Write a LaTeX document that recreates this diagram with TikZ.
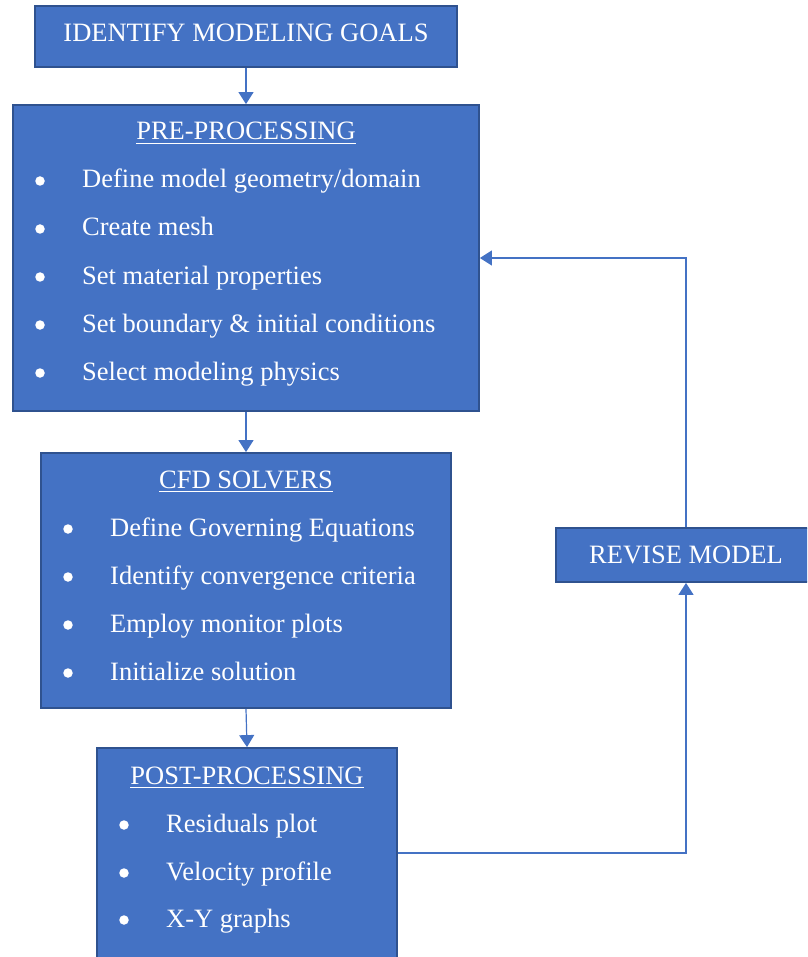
\documentclass[tikz,border=0pt]{standalone}
\usepackage{fontspec}
\setmainfont{Liberation Serif}
\usetikzlibrary{arrows.meta}
\definecolor{boxfill}{HTML}{4472C4}
\definecolor{boxline}{HTML}{2F528F}
\definecolor{conncol}{HTML}{4472C4}
\tikzset{
  stagebox/.style={draw=boxline, line width=1.8pt, fill=boxfill, inner sep=0pt},
  txt/.style={text=white, inner sep=0pt, font=\fontsize{26.5}{30}\selectfont},
  bul/.style={circle, fill=white, inner sep=0pt, minimum size=9.5pt},
  conn/.style={draw=conncol, line width=1.2pt, -{Triangle[length=12pt,width=15pt]}},
  ul/.style={draw=white, line width=1.3pt}
}
\begin{document}
\begin{tikzpicture}[x=1pt,y=-1pt]
\useasboundingbox (0,0) rectangle (807,957);
\clip (0,0) rectangle (807,957);
% boxes
\node[stagebox, minimum width=422pt, minimum height=61pt] (goals) at (246,36.5) {};
\node[stagebox, minimum width=466pt, minimum height=306pt] (pre) at (246,258) {};
\node[stagebox, minimum width=410pt, minimum height=255pt] (cfd) at (246,580.5) {};
\node[stagebox, minimum width=300pt, minimum height=230pt] (post) at (247,863) {};
\node[stagebox, minimum width=260pt, minimum height=54pt] (revise) at (686,555) {};
% texts
\node[txt, anchor=base] (tgoals) at (246,42) {IDENTIFY MODELING GOALS};
\node[txt, anchor=base] (trevise) at (686,563) {REVISE MODEL};
% pre
\node[txt, anchor=base] (tpre) at (246,140) {PRE-PROCESSING};
\draw[ul] ([yshift=-3.8pt]tpre.base west) -- ([yshift=-3.8pt]tpre.base east);
\foreach \n/\y/\t in {p1/188/Define model geometry\slash domain, p2/236/Create mesh, p3/284/Set material properties, p4/332/Set boundary \& initial conditions, p5/380/Select modeling physics}{
  \node[bul] (b\n) at (40,\y-7) {};
  \node[txt, anchor=base west] (\n) at (82,\y) {\t};
}
% cfd
\node[txt, anchor=base] (tcfd) at (246,488) {CFD SOLVERS};
\draw[ul] ([yshift=-3.8pt]tcfd.base west) -- ([yshift=-3.8pt]tcfd.base east);
\foreach \n/\y/\t in {c1/536/Define Governing Equations, c2/584/Identify convergence criteria, c3/632/Employ monitor plots, c4/680/Initialize solution}{
  \node[bul] (b\n) at (68,\y-7) {};
  \node[txt, anchor=base west] (\n) at (110,\y) {\t};
}
% post
\node[txt, anchor=base] (tpost) at (247,784) {POST-PROCESSING};
\draw[ul] ([yshift=-3.8pt]tpost.base west) -- ([yshift=-3.8pt]tpost.base east);
\foreach \n/\y/\t in {q1/832/Residuals plot, q2/880/Velocity profile, q3/927/X-Y graphs}{
  \node[bul] (b\n) at (124,\y-7) {};
  \node[txt, anchor=base west] (\n) at (166,\y) {\t};
}
% connectors
\draw[conn] (goals.south) -- (pre.north);
\draw[conn] (pre.south) -- (cfd.north);
\draw[conn] (cfd.south) -- (post.north);
\coordinate (k1) at (686,853);
\coordinate (k2) at (686,258);
\draw[conn] (k1 -| post.east) -- (k1) -- (revise.south);
\draw[conn] (revise.north) -- (k2) -- (pre.east);
\end{tikzpicture}
\end{document}
